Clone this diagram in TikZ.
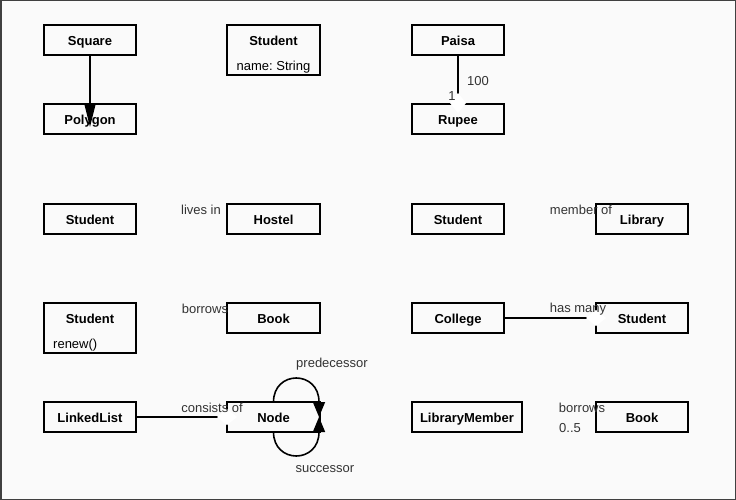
\documentclass[tikz,border=0pt]{standalone}
\usepackage{fontspec}
\setmainfont{Liberation Sans}
\usepackage{xcolor}
\usetikzlibrary{arrows.meta}
\definecolor{pagebg}{HTML}{FAFAFA}
\definecolor{labelgray}{HTML}{333333}

\begin{document}
\frenchspacing
\begin{tikzpicture}%
                    [x=1pt, y=-1pt,
                    font=\fontsize{13}{15}\selectfont,
                    clsname/.style={inner sep=0pt, text height=11pt, text depth=0pt,
                                font=\fontsize{13}{15}\selectfont\bfseries},
                    cls/.style={clsname, draw=black, line width=1.8pt, outer sep=0pt,
                                minimum width=92pt, minimum height=30pt},
                    lbl/.style={text=labelgray, inner sep=0pt},
                    assoc/.style={line width=1.6pt},
                    aggr/.style={line width=1.6pt, -{Diamond[color=white,length=20pt,width=16pt]}, shorten >=-10pt},
                    selfref/.style={line width=1.6pt, -{Triangle[length=15pt,width=12pt]}}]
                %% Page and frame
                \useasboundingbox (0,0) rectangle (736,500);
                \fill[pagebg] (0,0) rectangle (736,500);
                \draw[color=black!75, line width=1.5pt] (0.75,0.75) rectangle (735.25,499.25);
                %%
                %% Classes
                %%
                \node[cls] (sq) at (90,40) {Square};
                \node[cls] (pg) at (90,119) {Polygon};
                \node[cls, minimum width=93pt, minimum height=50pt] (stn) at (273.5,50) {};
                \node[clsname] (stntitle) at (273.5,40) {Student};
                \node[inner sep=0pt, text height=11pt, text depth=0pt] (stnattr) at (273.5,65) {name: String};
                \node[cls] (pa) at (458,40) {Paisa};
                \node[cls] (rp) at (458,119) {Rupee};

                \node[cls] (sth) at (90,219) {Student};
                \node[cls, minimum width=93pt] (ho) at (273.5,219) {Hostel};
                \node[cls] (stl) at (458,219) {Student};
                \node[cls] (li) at (642,219) {Library};

                \node[cls, minimum height=50pt] (str) at (90,328) {};
                \node[clsname] (strtitle) at (90,318) {Student};
                \node[anchor=west, inner sep=0pt, text height=11pt, text depth=0pt] (stroper) at (53,343) {renew()};
                \node[cls, minimum width=93pt] (bk) at (273.5,318) {Book};
                \node[cls] (co) at (458,318) {College};
                \node[cls] (stc) at (642,318) {Student};

                \node[cls] (ll) at (90,417) {LinkedList};
                \node[cls, minimum width=93pt] (nd) at (273.5,417) {Node};
                \node[cls, minimum width=110pt] (lm) at (467,417) {LibraryMember};
                \node[cls] (bm) at (642,417) {Book};
                %%
                %% Relations
                %%
                \draw[assoc, -{Triangle[length=23pt,width=11pt]}] (sq.south) -- ([yshift=7pt]pg.south);
                \draw[aggr, shorten >=-9pt] (pa.south) -- (rp.north);
                \draw[aggr] (co.east) -- (stc.west);
                \draw[aggr] (ll.east) -- (nd.west);
                \draw[selfref] (nd.north) .. controls +(0,-32) and +(0,-32) .. ([xshift=-1pt]nd.north east) -- ([xshift=-1pt]nd.east);
                \draw[selfref] (nd.south) .. controls +(0,32) and +(0,32) .. ([xshift=-1pt]nd.south east) -- ([xshift=-1pt]nd.east);
                %%
                %% Labels
                %%
                \node[lbl] (lpa) at (478,81) {100};
                \node[lbl] (lrp) at (452,96) {1};
                \node[lbl] (llives) at (201,210) {lives in};
                \node[lbl] (lmember) at (581,210) {member of};
                \node[lbl] (lborrow) at (205,309) {borrows};
                \node[lbl] (lhas) at (578,309) {has many};
                \node[lbl] (lconsist) at (212,408) {consists of};
                \node[lbl] (lpred) at (332,364) {predecessor};
                \node[lbl] (lsucc) at (325,469) {successor};
                \node[lbl] (lborrowm) at (582,408) {borrows};
                \node[lbl] (lmult) at (570,428) {0..5};
\end{tikzpicture}
\end{document}
